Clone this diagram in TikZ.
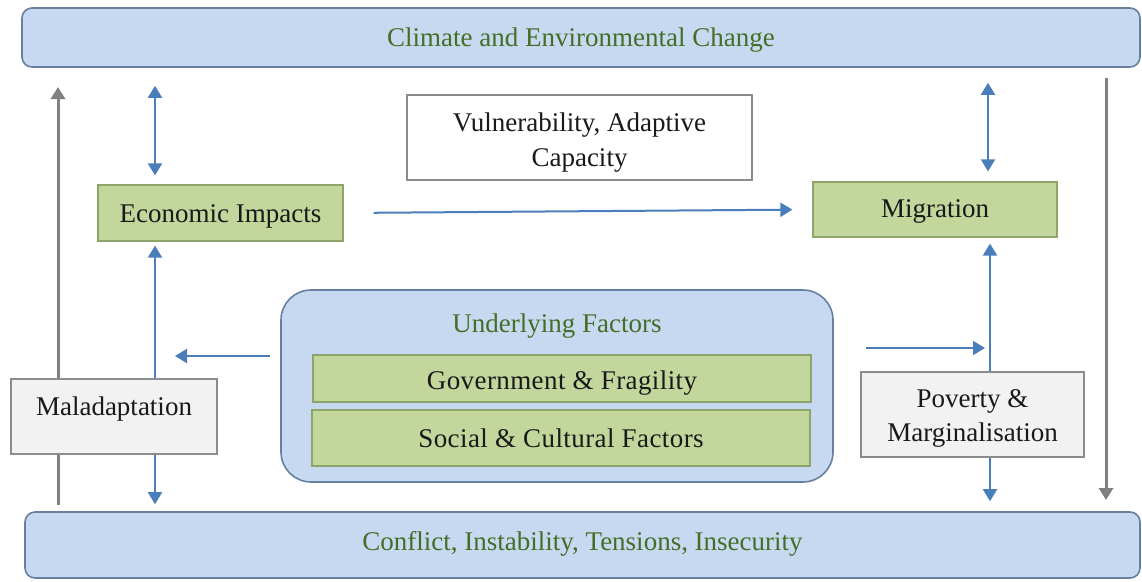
\documentclass[tikz,border=0pt]{standalone}
\usepackage{fontspec}
\setmainfont{Liberation Serif}
\usetikzlibrary{arrows.meta}
\definecolor{barfill}{RGB}{198,217,241}
\definecolor{barline}{RGB}{104,128,160}
\definecolor{greenfill}{RGB}{195,214,155}
\definecolor{greenline}{RGB}{142,165,106}
\definecolor{greentext}{RGB}{68,110,38}
\definecolor{bluearrow}{RGB}{74,126,187}
\definecolor{grayarrow}{RGB}{128,128,128}
\definecolor{grayfill}{RGB}{242,242,242}
\definecolor{grayline}{RGB}{140,140,140}
% move a label up (positive) or down (negative) without changing its box size
\newcommand\shiftv[2]{\raisebox{#1}[\height][\depth]{#2}}
\begin{document}
\begin{tikzpicture}[x=1pt,y=-1pt,
  every node/.style={font=\fontsize{27}{34}\selectfont, text=black!90, inner sep=0pt, align=center},
  bar/.style={draw=barline, line width=1.6pt, fill=barfill, rounded corners=10pt, text=greentext},
  greenbox/.style={draw=greenline, line width=1.2pt, fill=greenfill},
  graybox/.style={draw=grayline, line width=1.2pt, fill=grayfill},
  whitebox/.style={draw=grayline, line width=1.2pt, fill=white},
  groupbox/.style={draw=barline, line width=1.6pt, fill=barfill, rounded corners=30pt},
  barrow/.style={draw=bluearrow, line width=2pt, -{Triangle[width=14pt,length=12pt]}},
  bdarrow/.style={draw=bluearrow, line width=2pt, {Triangle[width=14pt,length=12pt]}-{Triangle[width=14pt,length=12pt]}},
  garrow/.style={draw=grayarrow, line width=3pt, -{Triangle[width=14pt,length=12pt]}},
  spaced/.style={font=\fontsize{27}{34}\selectfont\addfontfeatures{LetterSpace=1.5}}
]
\useasboundingbox (0,0) rectangle (1142,581);

% long grey feedback arrows, drawn first so the boxes sit over them
\coordinate (gl0) at (58,505);
\coordinate (gl1) at (58,87);
\coordinate (gr0) at (1106,78);
\coordinate (gr1) at (1106,500);
\draw[garrow] (gl0) -- (gl1);
\draw[garrow] (gr0) -- (gr1);

% top and bottom bars
\node[bar, minimum width=1118pt, minimum height=59pt] (top) at (581,37.5) {\shiftv{-3pt}{Climate and Environmental Change}};
\node[bar, minimum width=1115pt, minimum height=66pt] (bottom) at (582.5,545) {\shiftv{1pt}{Conflict, Instability, Tensions, Insecurity}};

% boxes
\node[greenbox, minimum width=245pt, minimum height=56pt] (econ) at (220.5,213) {\shiftv{-3pt}{Economic Impacts}};
\node[whitebox, minimum width=345pt, minimum height=85pt] (vuln) at (579.5,137.5) {\shiftv{-5pt}{\begin{tabular}{@{}c@{}}Vulnerability, Adaptive\\[1pt]Capacity\end{tabular}}};
\node[greenbox, minimum width=244pt, minimum height=55pt] (mig) at (935,209.5) {\shiftv{-2pt}{Migration}};

\node[groupbox, minimum width=552pt, minimum height=192pt] (under) at (557,386) {};
\node[text=greentext] (utitle) at (557,326) {Underlying Factors};
\node[greenbox, minimum width=498pt, minimum height=47pt, spaced] (gov) at (562,378.5) {\shiftv{-5pt}{Government \& Fragility}};
\node[greenbox, minimum width=498pt, minimum height=56pt, spaced] (soc) at (561,438) {Social \& Cultural Factors};

\node[graybox, minimum width=206pt, minimum height=75pt] (mal) at (114,416.5) {\shiftv{8pt}{Maladaptation}};
\node[graybox, minimum width=223pt, minimum height=85pt] (pov) at (972.5,414.5) {\shiftv{-3pt}{\begin{tabular}{@{}c@{}}Poverty \&\\[0pt]Marginalisation\end{tabular}}};

% vertical guides for the blue connectors
\coordinate (bl) at (155,0);
\coordinate (brt) at (988,0);
\coordinate (br) at (990,0);

% left column
\draw[bdarrow, shorten <=18pt, shorten >=9pt] (top.south -| bl) -- (econ.north -| bl);
\draw[barrow, shorten >=4pt] (mal.north -| bl) -- (econ.south -| bl);
\draw[barrow, shorten >=7pt] (mal.south -| bl) -- (bottom.north -| bl);

% right column
\draw[bdarrow, shorten <=15pt, shorten >=10pt] (top.south -| brt) -- (mig.north -| brt);
\draw[barrow, shorten >=6pt] (pov.north -| br) -- (mig.south -| br);
\draw[barrow, shorten >=10pt] (pov.south -| br) -- (bottom.north -| br);

% horizontal links
\draw[barrow, shorten <=30pt, shorten >=20pt] (econ.east) -- (mig.west);
\coordinate (ul0) at (270,356);
\coordinate (ul1) at (175,356);
\coordinate (ur0) at (866,348);
\coordinate (ur1) at (985,348);
\draw[barrow] (ul0) -- (ul1);
\draw[barrow] (ur0) -- (ur1);
\end{tikzpicture}
\end{document}
